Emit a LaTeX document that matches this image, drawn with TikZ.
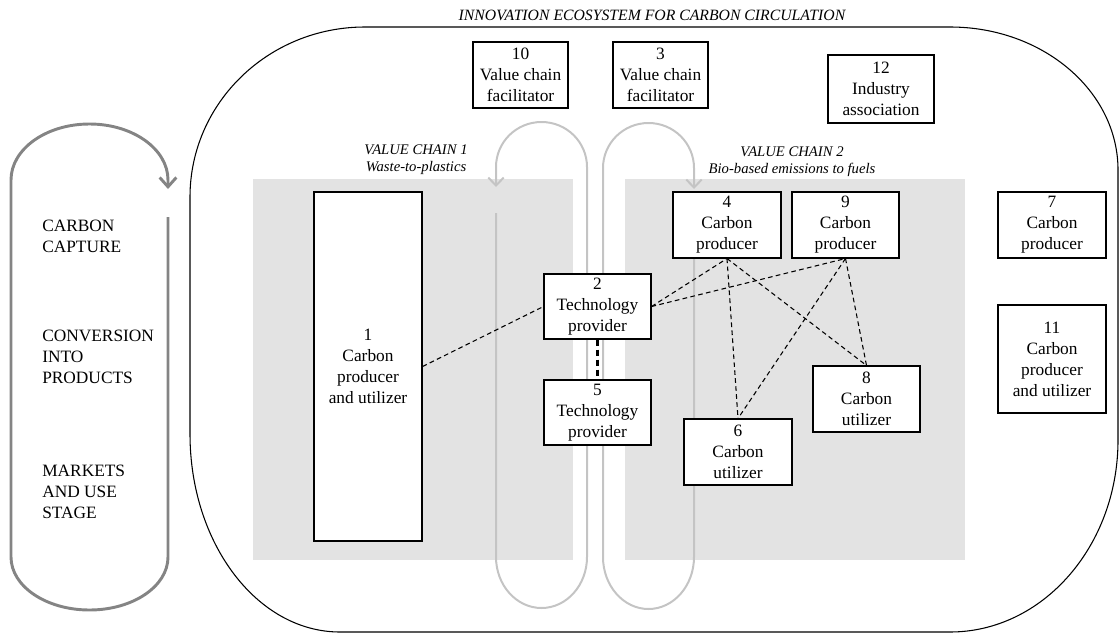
\documentclass[tikz,border=0pt]{standalone}
\usepackage{fontspec}
\setmainfont{Liberation Serif}
\usetikzlibrary{arrows.meta}
\definecolor{zone}{HTML}{E3E3E3}
\definecolor{loopgrey}{HTML}{C4C4C4}
\definecolor{cyclegrey}{HTML}{848484}
\begin{document}
\begin{tikzpicture}[x=0.75pt,y=-0.75pt,
  actor/.style 2 args={draw=black, line width=0.8pt, fill=white, align=center,
    inner sep=0pt, minimum width=#1*0.75pt, minimum height=#2*0.75pt,
    font=\fontsize{13}{15.75}\selectfont},
  stage/.style={align=left, anchor=west, inner sep=0pt,
    font=\fontsize{13}{15.75}\selectfont},
  chainlabel/.style={align=center, inner sep=0pt,
    font=\itshape\fontsize{11}{12.75}\selectfont},
  link/.style={draw=black, line width=0.8pt, dash pattern=on 3.5pt off 2.5pt},
  strong link/.style={draw=black, line width=1.8pt, dash pattern=on 4.5pt off 3pt},
  loopline/.style={draw=loopgrey, line width=1.5pt,
    -{Straight Barb[length=6pt,width=11.5pt]}},
  cycleline/.style={draw=cyclegrey, line width=2.2pt,
    -{Straight Barb[length=7pt,width=12.5pt]}}]
\useasboundingbox (0,0) rectangle (1120,639);

% stages of the carbon cycle
\draw[cycleline] (168,217) -- (168,557)
  .. controls (168,586.3) and (132.9,610) .. (89.5,610)
  .. controls (46.1,610) and (11,586.3) .. (11,557) -- (11,180)
  .. controls (11,149.1) and (46.1,124) .. (89.5,124)
  .. controls (132.9,124) and (168,149.1) .. (168,180) -- (168,189);
\node[stage] (capture) at (42,236) {CARBON\\CAPTURE};
\node[stage] (conversion) at (42,357) {CONVERSION\\INTO\\PRODUCTS};
\node[stage] (markets) at (42,492) {MARKETS\\AND USE\\STAGE};

% ecosystem boundary
\node[font=\itshape\fontsize{11.8}{13}\selectfont, inner sep=0pt] (title) at (652,15)
  {INNOVATION ECOSYSTEM FOR CARBON CIRCULATION};
\draw[line width=0.8pt] (190,197) .. controls (190,103.1) and (268.3,27) .. (365,27)
  -- (950,27) .. controls (1042.8,27) and (1118,91) .. (1118,170)
  -- (1118,440) .. controls (1118,546) and (1042.8,632) .. (950,632)
  -- (340,632) .. controls (257.2,632) and (190,543.4) .. (190,434) -- cycle;

% value chain areas
\fill[zone] (253,179) rectangle (573,560);
\fill[zone] (625,179) rectangle (965,560);
\node[chainlabel] (vc1) at (416,160) {VALUE CHAIN 1\\Waste-to-plastics};
\node[chainlabel] (vc2) at (792,162) {VALUE CHAIN 2\\Bio-based emissions to fuels};

% facilitation loops
\draw[loopline] (496,213) -- (496,557)
  .. controls (496,585.2) and (516.4,608) .. (541.5,608)
  .. controls (566.6,608) and (587,585.2) .. (587,557) -- (587,167)
  .. controls (587,142.1) and (566.6,122) .. (541.5,122)
  .. controls (516.4,122) and (496,142.1) .. (496,167) -- (496,187);
\draw[loopline] (694,240) -- (694,557)
  .. controls (694,585.7) and (673.6,609) .. (648.5,609)
  .. controls (623.4,609) and (603,585.7) .. (603,557) -- (603,168)
  .. controls (603,143.1) and (623.4,123) .. (648.5,123)
  .. controls (673.6,123) and (694,143.1) .. (694,168) -- (694,189);

% actors
\node[actor={95}{66}] (n10) at (520.5,75) {10\\Value chain\\facilitator};
\node[actor={95}{66}] (n3) at (660.5,75) {3\\Value chain\\facilitator};
\node[actor={106}{68}] (n12) at (881,89) {12\\Industry\\association};
\node[actor={108}{349}] (n1) at (368,366.5) {1\\Carbon\\producer\\and utilizer};
\node[actor={107}{65}] (n2) at (597.5,306.5) {2\\Technology\\provider};
\node[actor={107}{65}] (n5) at (597.5,412.5) {5\\Technology\\provider};
\node[actor={108}{66}] (n4) at (727,225) {4\\Carbon\\producer};
\node[actor={107}{66}] (n9) at (845.5,225) {9\\Carbon\\producer};
\node[actor={107}{66}] (n8) at (866.5,399) {8\\Carbon\\utilizer};
\node[actor={108}{66}] (n6) at (738,452) {6\\Carbon\\utilizer};
\node[actor={108}{66}] (n7) at (1052,225) {7\\Carbon\\producer};
\node[actor={108}{108}] (n11) at (1052,359) {11\\Carbon\\producer\\and utilizer};

% relations
\draw[link] (n1.east) -- (n2.west);
\draw[link] (n2.east) -- (n4.south);
\draw[link] (n2.east) -- (n9.south);
\draw[link] (n4.south) -- (n6.north);
\draw[link] (n4.south) -- (n8.north);
\draw[link] (n9.south) -- (n6.north);
\draw[link] (n9.south) -- (n8.north);
\draw[strong link] (n2.south) -- (n5.north);
\end{tikzpicture}
\end{document}
